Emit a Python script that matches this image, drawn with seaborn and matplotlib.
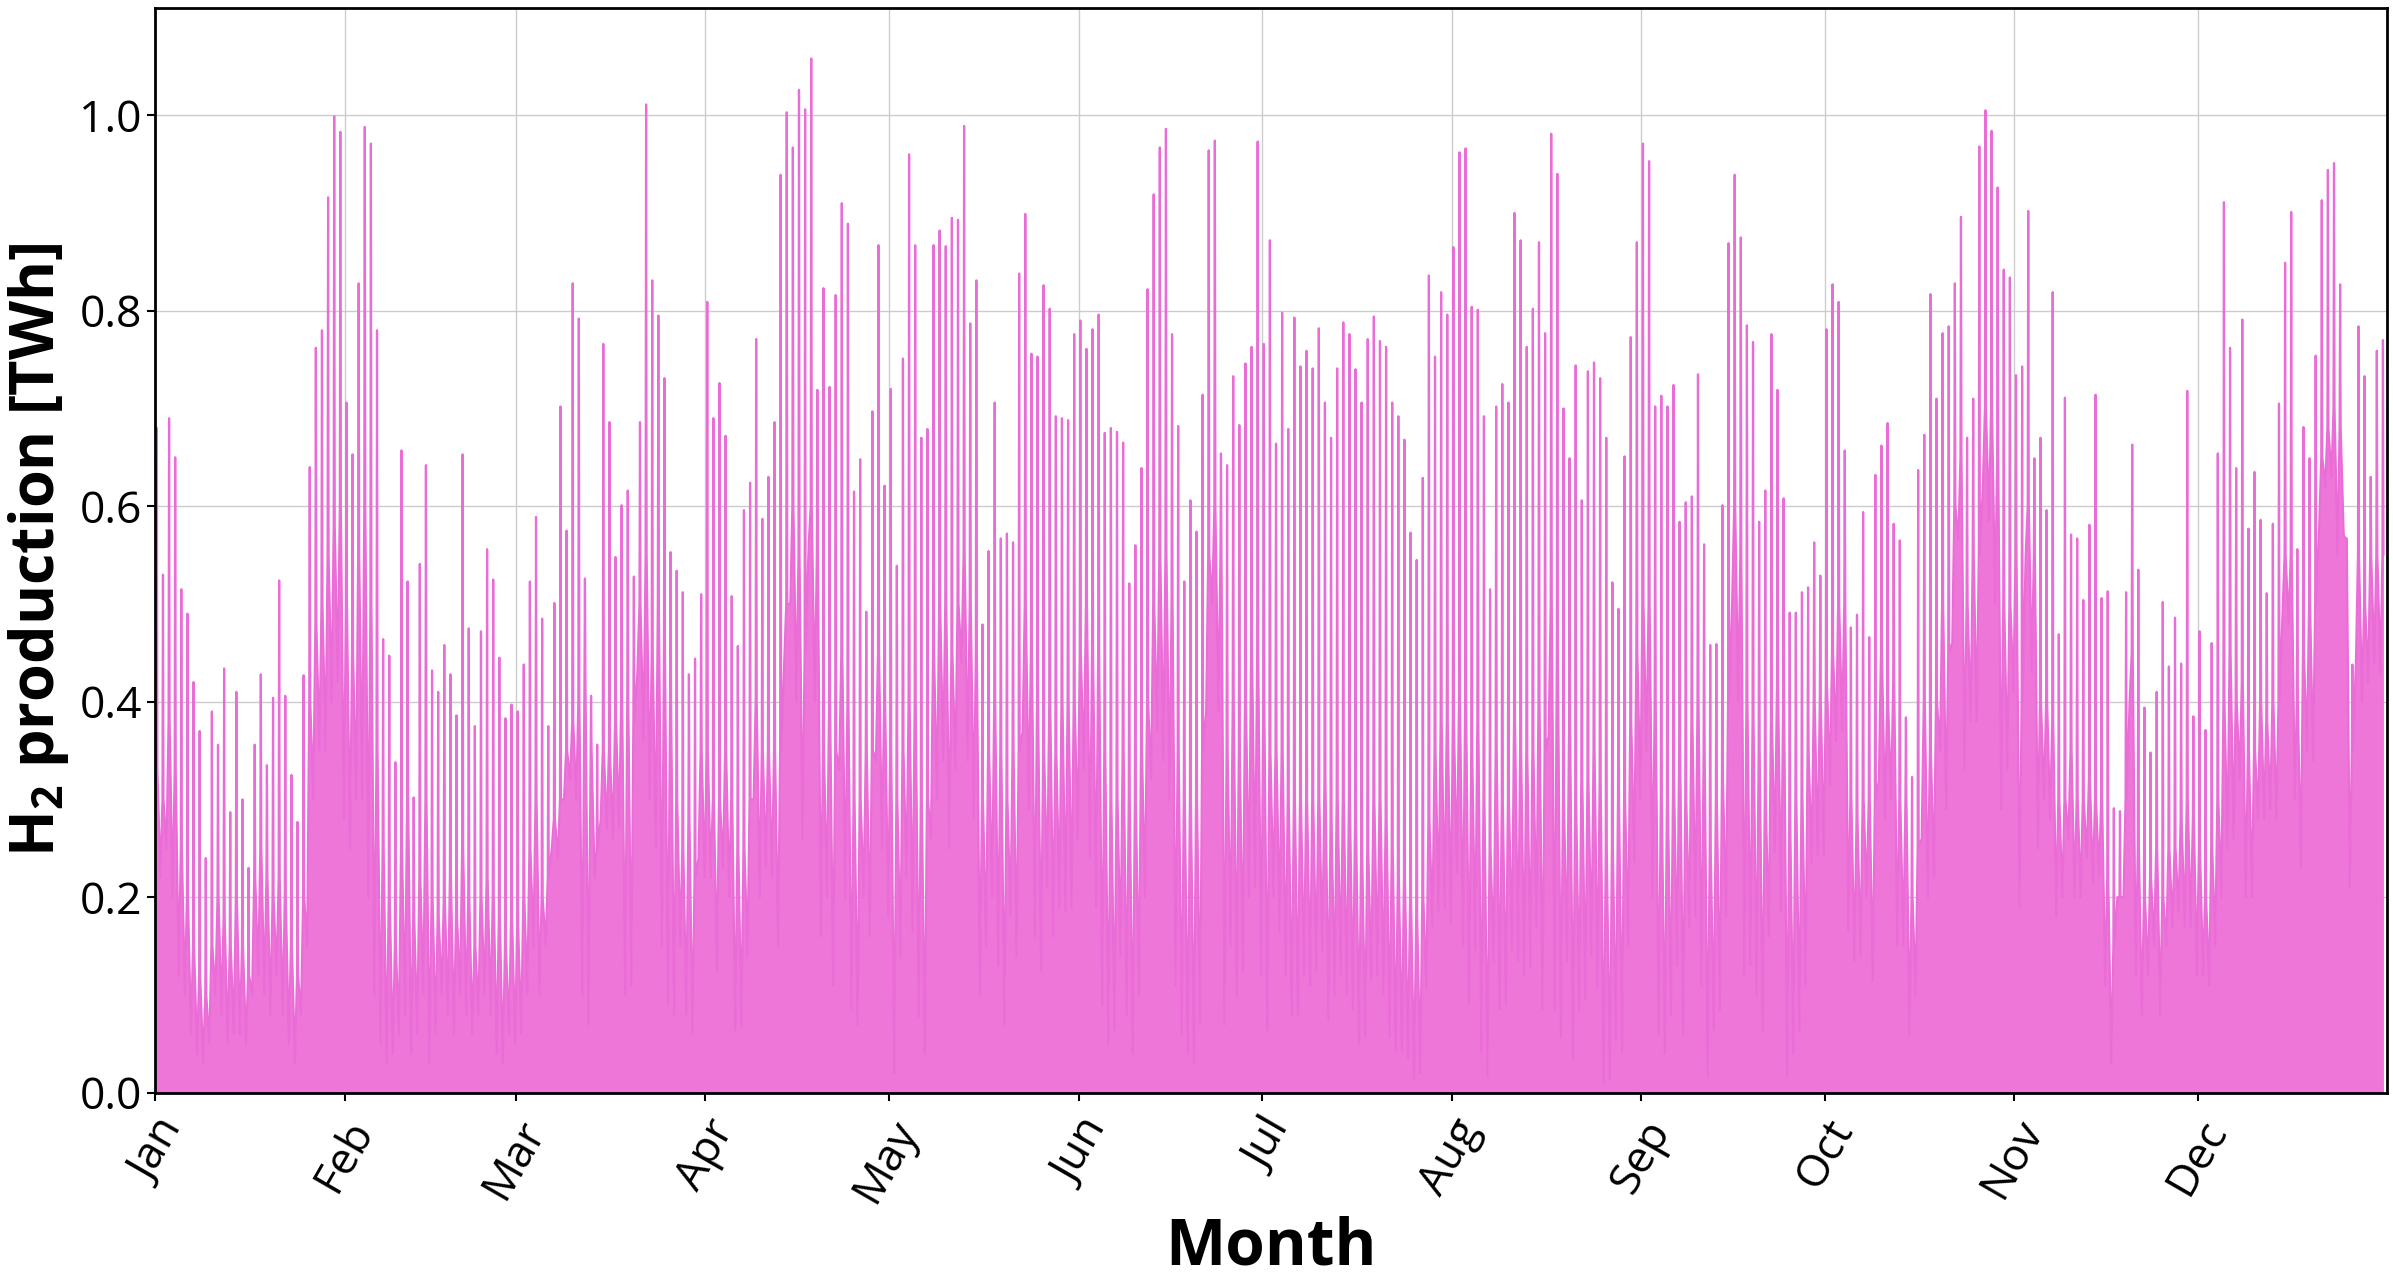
import numpy as np
import pandas as pd
import seaborn as sns
import matplotlib.pyplot as plt

# daily values (TWh): spike peak, daytime level, night dip
peak_twh = [
    0.68, 0.53, 0.69, 0.65, 0.515, 0.49, 0.42, 0.37, 0.24, 0.39, 0.356, 0.434, 0.287, 0.41, 0.30, 0.23,
    0.356, 0.428, 0.335, 0.404, 0.524, 0.406, 0.325, 0.277, 0.427, 0.64, 0.762, 0.78, 0.916, 0.999, 0.983,
    0.706, 0.653, 0.828, 0.988, 0.971, 0.78, 0.464, 0.447, 0.338, 0.657, 0.523, 0.302, 0.541, 0.642, 0.432,
    0.41, 0.458, 0.428, 0.386, 0.653, 0.475, 0.375, 0.472, 0.556, 0.525, 0.445, 0.383, 0.397, 0.39, 0.438,
    0.523, 0.589, 0.485, 0.375, 0.501, 0.702, 0.575, 0.828, 0.792, 0.526, 0.406, 0.356, 0.766, 0.686, 0.548,
    0.601, 0.616, 0.528, 0.686, 1.011, 0.831, 0.795, 0.731, 0.553, 0.534, 0.512, 0.428, 0.444, 0.51, 0.809, 0.69,
    0.726, 0.672, 0.508, 0.457, 0.596, 0.624, 0.771, 0.587, 0.63, 0.686, 0.939, 1.003, 0.967, 1.026, 1.006,
    1.058, 0.719, 0.823, 0.722, 0.816, 0.91, 0.889, 0.615, 0.648, 0.492, 0.697, 0.867, 0.621, 0.72, 0.539,
    0.751, 0.96, 0.867, 0.67, 0.679, 0.867, 0.882, 0.866, 0.895, 0.893, 0.989, 0.787, 0.831, 0.479, 0.554,
    0.706, 0.567, 0.572, 0.563, 0.838, 0.899, 0.756, 0.753, 0.826, 0.802, 0.692, 0.69, 0.688, 0.776, 0.79, 0.761,
    0.781, 0.796, 0.675, 0.68, 0.676, 0.665, 0.521, 0.56, 0.639, 0.822, 0.919, 0.967, 0.986, 0.776, 0.682,
    0.523, 0.606, 0.574, 0.714, 0.964, 0.974, 0.654, 0.642, 0.733, 0.683, 0.746, 0.763, 0.973, 0.766, 0.872,
    0.664, 0.798, 0.679, 0.793, 0.743, 0.759, 0.741, 0.782, 0.706, 0.67, 0.741, 0.788, 0.776, 0.74, 0.706,
    0.771, 0.794, 0.769, 0.763, 0.706, 0.692, 0.668, 0.573, 0.545, 0.629, 0.836, 0.753, 0.819, 0.796, 0.865, 0.962,
    0.966, 0.804, 0.801, 0.692, 0.515, 0.702, 0.725, 0.706, 0.9, 0.872, 0.763, 0.802, 0.87, 0.777, 0.981,
    0.94, 0.70, 0.649, 0.744, 0.606, 0.738, 0.747, 0.731, 0.67, 0.522, 0.495, 0.651, 0.773, 0.87, 0.971, 0.953,
    0.702, 0.713, 0.702, 0.724, 0.584, 0.604, 0.61, 0.735, 0.561, 0.458, 0.459, 0.601, 0.869, 0.939, 0.875,
    0.785, 0.768, 0.584, 0.616, 0.776, 0.719, 0.608, 0.491, 0.491, 0.512, 0.517, 0.563, 0.529, 0.781, 0.827,
    0.809, 0.657, 0.476, 0.489, 0.594, 0.466, 0.632, 0.662, 0.685, 0.582, 0.565, 0.384, 0.323, 0.637, 0.673,
    0.817, 0.71, 0.777, 0.784, 0.828, 0.896, 0.67, 0.71, 0.968, 1.005, 0.984, 0.926, 0.842, 0.834, 0.734, 0.743,
    0.902, 0.649, 0.67, 0.596, 0.819, 0.469, 0.711, 0.571, 0.567, 0.504, 0.581, 0.714, 0.506, 0.513, 0.291,
    0.288, 0.512, 0.663, 0.535, 0.394, 0.348, 0.41, 0.502, 0.436, 0.486, 0.439, 0.718, 0.385, 0.472, 0.371,
    0.46, 0.654, 0.911, 0.762, 0.639, 0.791, 0.577, 0.635, 0.586, 0.511, 0.582, 0.705, 0.849, 0.901, 0.556,
    0.681, 0.649, 0.754, 0.913, 0.944, 0.951, 0.827, 0.567, 0.438, 0.784, 0.733, 0.63, 0.759, 0.77,
]

base_twh = [
    0.33, 0.3, 0.38, 0.33, 0.25, 0.2, 0.15, 0.12, 0.1, 0.15, 0.2, 0.18, 0.15, 0.2, 0.15, 0.12,
    0.22, 0.25, 0.22, 0.2, 0.22, 0.2, 0.15, 0.12, 0.2, 0.4, 0.48, 0.5, 0.55, 0.58, 0.6,
    0.5, 0.45, 0.55, 0.6, 0.5, 0.35, 0.25, 0.2, 0.15, 0.25, 0.3, 0.18, 0.22, 0.3, 0.2,
    0.18, 0.2, 0.22, 0.18, 0.25, 0.2, 0.15, 0.2, 0.22, 0.2, 0.18, 0.15, 0.18, 0.17, 0.2,
    0.25, 0.3, 0.2, 0.22, 0.28, 0.3, 0.35, 0.38, 0.4, 0.42, 0.35, 0.25, 0.35, 0.35, 0.38,
    0.4, 0.4, 0.38, 0.5, 0.55, 0.45, 0.5, 0.45, 0.4, 0.3, 0.25, 0.28, 0.22, 0.35, 0.35, 0.3,
    0.3, 0.35, 0.3, 0.25, 0.25, 0.3, 0.4, 0.35, 0.35, 0.35, 0.35, 0.5, 0.6, 0.55, 0.45,
    0.6, 0.55, 0.35, 0.4, 0.35, 0.45, 0.4, 0.3, 0.3, 0.35, 0.35, 0.45, 0.4, 0.35, 0.3,
    0.35, 0.4, 0.4, 0.3, 0.3, 0.45, 0.5, 0.5, 0.45, 0.5, 0.55, 0.5, 0.45, 0.3, 0.35,
    0.4, 0.35, 0.3, 0.35, 0.35, 0.5, 0.45, 0.4, 0.35, 0.4, 0.35, 0.4, 0.4, 0.4, 0.45, 0.5,
    0.45, 0.45, 0.35, 0.3, 0.3, 0.35, 0.3, 0.3, 0.35, 0.4, 0.5, 0.55, 0.55, 0.5, 0.35,
    0.3, 0.3, 0.3, 0.35, 0.55, 0.6, 0.55, 0.35, 0.4, 0.35, 0.4, 0.45, 0.45, 0.4, 0.35,
    0.35, 0.35, 0.3, 0.3, 0.3, 0.3, 0.3, 0.3, 0.32, 0.28, 0.3, 0.3, 0.3, 0.28, 0.25,
    0.25, 0.3, 0.3, 0.28, 0.25, 0.22, 0.22, 0.2, 0.18, 0.2, 0.28, 0.35, 0.38, 0.38, 0.38, 0.4,
    0.4, 0.35, 0.38, 0.3, 0.25, 0.35, 0.3, 0.3, 0.38, 0.35, 0.35, 0.35, 0.4, 0.35, 0.5,
    0.45, 0.3, 0.38, 0.3, 0.32, 0.32, 0.35, 0.32, 0.25, 0.25, 0.3, 0.3, 0.38, 0.45, 0.5, 0.5,
    0.4, 0.3, 0.3, 0.32, 0.35, 0.3, 0.38, 0.4, 0.35, 0.25, 0.3, 0.32, 0.4, 0.6, 0.55,
    0.4, 0.38, 0.35, 0.3, 0.38, 0.42, 0.4, 0.28, 0.3, 0.3, 0.35, 0.4, 0.4, 0.42, 0.45,
    0.5, 0.5, 0.3, 0.28, 0.3, 0.3, 0.3, 0.45, 0.4, 0.42, 0.3, 0.3, 0.2, 0.25, 0.4,
    0.35, 0.4, 0.5, 0.45, 0.6, 0.65, 0.5, 0.55, 0.55, 0.7, 0.7, 0.65, 0.5, 0.5, 0.55, 0.4,
    0.6, 0.55, 0.4, 0.4, 0.38, 0.3, 0.3, 0.35, 0.3, 0.3, 0.32, 0.3, 0.3, 0.22, 0.15,
    0.2, 0.3, 0.45, 0.25, 0.2, 0.22, 0.25, 0.2, 0.25, 0.25, 0.28, 0.3, 0.28, 0.25, 0.2,
    0.25, 0.3, 0.4, 0.45, 0.4, 0.42, 0.35, 0.35, 0.4, 0.38, 0.4, 0.4, 0.55, 0.55, 0.4,
    0.45, 0.5, 0.5, 0.65, 0.68, 0.7, 0.68, 0.45, 0.35, 0.55, 0.5, 0.55, 0.55, 0.55,
]

low_twh = [
    0.25, 0.22, 0.25, 0.2, 0.12, 0.1, 0.06, 0.04, 0.03, 0.05, 0.1, 0.08, 0.05, 0.06, 0.06, 0.05,
    0.1, 0.12, 0.1, 0.08, 0.12, 0.08, 0.05, 0.03, 0.08, 0.15, 0.3, 0.35, 0.35, 0.4, 0.42,
    0.28, 0.25, 0.3, 0.3, 0.2, 0.1, 0.05, 0.03, 0.04, 0.06, 0.08, 0.04, 0.06, 0.1, 0.03,
    0.06, 0.1, 0.08, 0.06, 0.1, 0.08, 0.06, 0.08, 0.1, 0.08, 0.04, 0.03, 0.06, 0.05, 0.06,
    0.1, 0.15, 0.1, 0.15, 0.25, 0.24, 0.3, 0.32, 0.3, 0.1, 0.07, 0.22, 0.28, 0.27, 0.26,
    0.27, 0.1, 0.11, 0.43, 0.36, 0.3, 0.25, 0.15, 0.09, 0.08, 0.15, 0.08, 0.06, 0.24, 0.22, 0.22,
    0.125, 0.23, 0.2, 0.064, 0.067, 0.14, 0.3, 0.2, 0.23, 0.22, 0.15, 0.44, 0.5, 0.4, 0.26,
    0.56, 0.4, 0.16, 0.2, 0.11, 0.33, 0.2, 0.085, 0.07, 0.2, 0.16, 0.34, 0.25, 0.18, 0.02,
    0.14, 0.22, 0.165, 0.078, 0.04, 0.26, 0.3, 0.34, 0.25, 0.33, 0.44, 0.34, 0.28, 0.1, 0.15,
    0.2, 0.13, 0.07, 0.18, 0.14, 0.37, 0.29, 0.16, 0.125, 0.21, 0.16, 0.19, 0.185, 0.19, 0.26, 0.33,
    0.24, 0.19, 0.09, 0.05, 0.064, 0.14, 0.08, 0.04, 0.1, 0.2, 0.32, 0.37, 0.34, 0.3, 0.11,
    0.06, 0.04, 0.03, 0.07, 0.39, 0.5, 0.39, 0.07, 0.15, 0.1, 0.125, 0.2, 0.21, 0.12, 0.064,
    0.2, 0.165, 0.12, 0.08, 0.08, 0.12, 0.11, 0.125, 0.145, 0.075, 0.1, 0.12, 0.1, 0.085, 0.05,
    0.057, 0.115, 0.12, 0.1, 0.057, 0.043, 0.043, 0.035, 0.014, 0.02, 0.107, 0.17, 0.185, 0.19, 0.175, 0.225,
    0.15, 0.09, 0.146, 0.042, 0.017, 0.135, 0.085, 0.09, 0.146, 0.135, 0.12, 0.128, 0.17, 0.085, 0.365,
    0.085, 0.057, 0.135, 0.035, 0.085, 0.095, 0.14, 0.107, 0.01, 0.013, 0.053, 0.042, 0.15, 0.236, 0.3, 0.35,
    0.2, 0.06, 0.04, 0.08, 0.13, 0.06, 0.17, 0.18, 0.11, 0.017, 0.064, 0.085, 0.18, 0.5, 0.4,
    0.12, 0.13, 0.1, 0.064, 0.16, 0.246, 0.185, 0.017, 0.04, 0.064, 0.11, 0.236, 0.243, 0.243, 0.315,
    0.36, 0.37, 0.165, 0.135, 0.14, 0.2, 0.115, 0.32, 0.28, 0.3, 0.15, 0.15, 0.06, 0.1, 0.26,
    0.2, 0.22, 0.35, 0.29, 0.46, 0.565, 0.33, 0.38, 0.38, 0.62, 0.585, 0.5, 0.29, 0.33, 0.41, 0.19,
    0.55, 0.43, 0.25, 0.3, 0.28, 0.18, 0.2, 0.26, 0.2, 0.2, 0.24, 0.215, 0.22, 0.11, 0.03,
    0.2, 0.2, 0.4, 0.12, 0.08, 0.12, 0.15, 0.08, 0.15, 0.17, 0.185, 0.17, 0.17, 0.12, 0.12,
    0.11, 0.15, 0.2, 0.25, 0.26, 0.32, 0.2, 0.2, 0.28, 0.28, 0.29, 0.28, 0.49, 0.48, 0.3,
    0.23, 0.35, 0.34, 0.58, 0.62, 0.63, 0.55, 0.57, 0.21, 0.44, 0.4, 0.42, 0.44, 0.43,
]

month_labels = ["Jan", "Feb", "Mar", "Apr", "May", "Jun",
                "Jul", "Aug", "Sep", "Oct", "Nov", "Dec"]

# hour of the day for each daily value: night dip, morning level, spike, afternoon level
hour_offsets = [-3, 5, 7, 9]

peak = np.array(peak_twh)
low = np.array(low_twh)
base = np.clip(np.array(base_twh), low, peak)

days = pd.date_range("2019-01-01", periods=len(peak), freq="D")
times, values = [], []
for d, day in enumerate(days):
    for h, v in zip(hour_offsets, [low[d], base[d], peak[d], base[d]]):
        times.append(day + pd.Timedelta(hours=h))
        values.append(v)
df = pd.DataFrame({"time": times, "h2": values})

sns.set_style("ticks")
plt.rcParams["font.family"] = ["Open Sans", "DejaVu Sans"]
plt.rcParams["mathtext.fontset"] = "custom"
plt.rcParams["mathtext.bf"] = "Open Sans:bold"
plt.rcParams["mathtext.rm"] = "Open Sans"
plt.rcParams["mathtext.default"] = "bf"
for key in ["text.color", "axes.labelcolor", "xtick.color", "ytick.color"]:
    plt.rcParams[key] = "black"

line_color = "#ea6cd7"
fill_color = "#ef76d9"
fig = plt.figure(figsize=(23.93, 12.78), dpi=100)
ax = fig.add_axes([0.0648, 0.145, 0.9327, 0.849])

ax.fill_between(df["time"], df["h2"], 0, color=fill_color, lw=0)
sns.lineplot(data=df, x="time", y="h2", color=line_color, lw=1.6, estimator=None, ax=ax)

ax.set_xlim(pd.Timestamp("2019-01-01"), pd.Timestamp("2019-12-31 23:00"))
ax.set_ylim(0, 1.11)
ax.set_xticks(pd.date_range("2019-01-01", periods=12, freq="MS"))
ax.set_xticklabels(month_labels, rotation=60, ha="right", rotation_mode="anchor")
ax.set_yticks([0.0, 0.2, 0.4, 0.6, 0.8, 1.0])
ax.set_yticklabels(["0.0", "0.2", "0.4", "0.6", "0.8", "1.0"])
ax.tick_params(axis="both", labelsize=32, length=6, width=1.5, color="black")
ax.tick_params(axis="x", pad=8)

ax.grid(True, color="#cccccc", lw=1)
ax.set_axisbelow(True)
for s in ax.spines.values():
    s.set_color("black")
    s.set_linewidth(2)

ax.set_xlabel("Month", fontsize=46, fontweight="bold", labelpad=4)
ax.set_ylabel("H$_2$ production [TWh]", fontsize=44, fontweight="bold", labelpad=6)

fig.savefig("out.png", dpi=100)
